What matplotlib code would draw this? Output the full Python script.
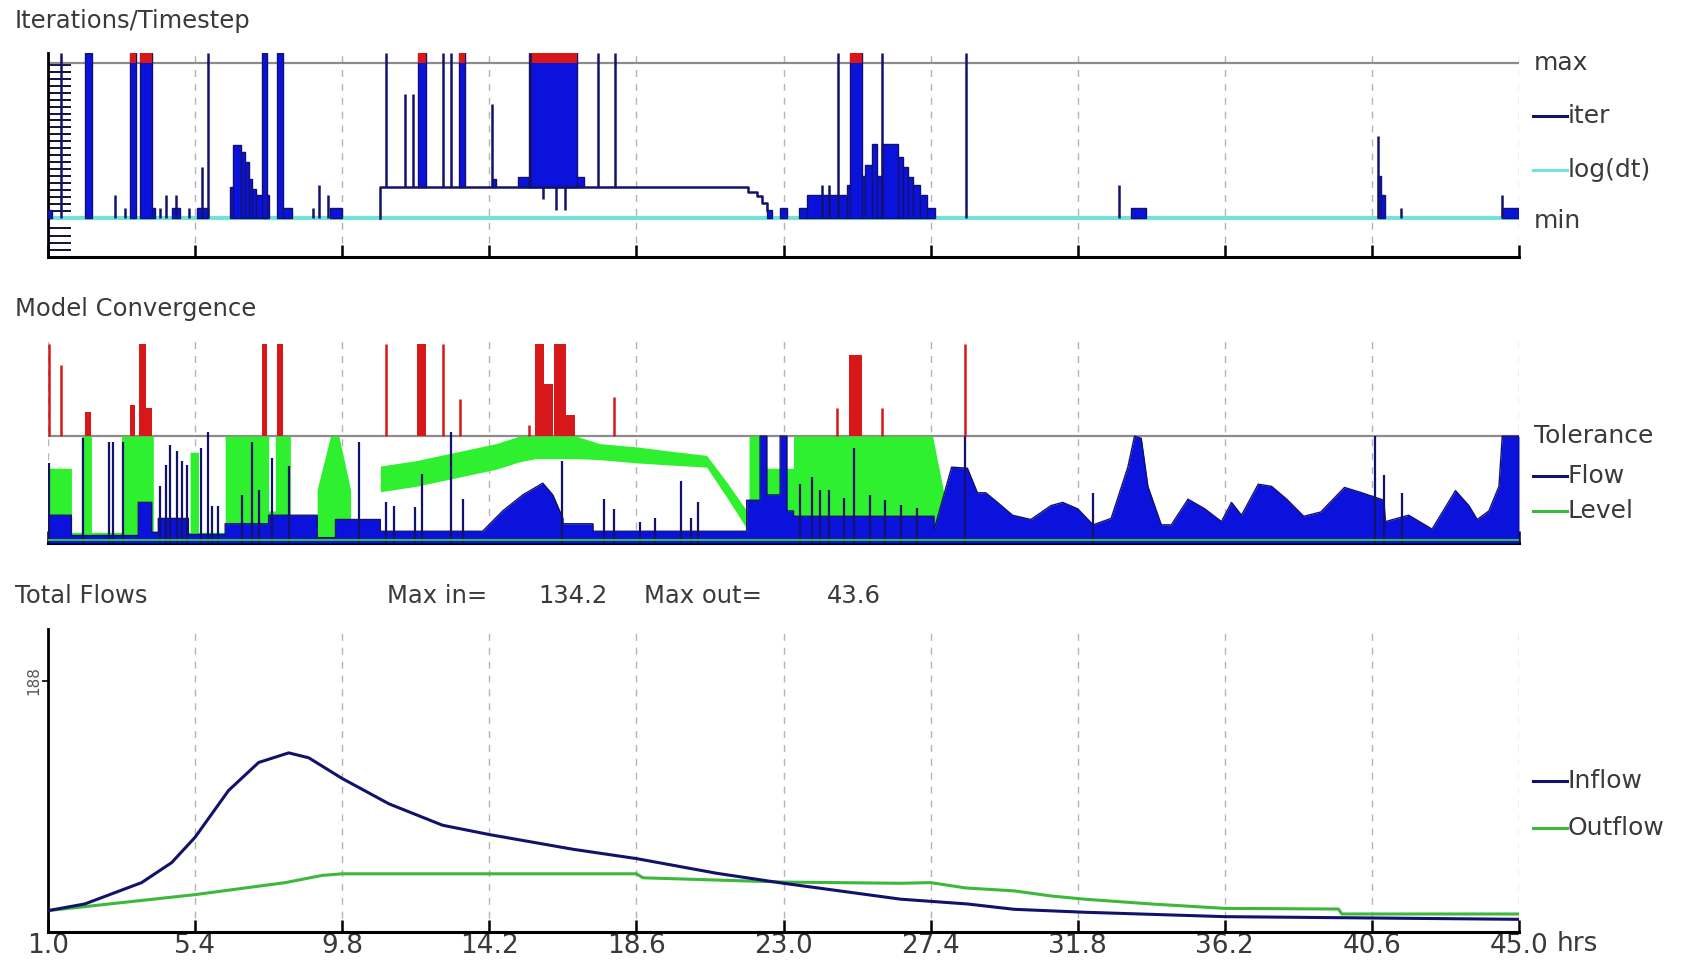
import matplotlib.pyplot as plt
from matplotlib.lines import Line2D

W, H = 1684, 969

NAVY = '#12126a'
BLUE = '#0a12dc'
RED = '#d81818'
GREEN = '#2ef02e'
DGREEN = '#3cb83c'
CYAN = '#72e2da'
GRAY = '#8c8c8c'
TXT = '#3a3a3a'

# time axis (hrs)
hour_ticks = [1.0, 5.4, 9.8, 14.2, 18.6, 23.0, 27.4, 31.8, 36.2, 40.6, 45.0]
hour_labels = ['1.0', '5.4', '9.8', '14.2', '18.6', '23.0', '27.4', '31.8', '36.2', '40.6', '45.0']

# ---- Iterations/Timestep (max = 20, min = 0) ----
iter_max = 20.0
iter_blocks = [  # (t0, t1, bottom, top)
    (1.0, 1.12, 0, 1.0), (2.11, 2.31, 0, 21.3), (3.46, 3.63, 0, 21.3),
    (3.74, 4.12, 0, 21.3), (4.12, 4.2, 0, 1.3), (4.71, 4.94, 0, 1.3),
    (5.46, 5.8, 0, 1.3), (6.43, 6.54, 0, 4.0), (6.54, 6.77, 0, 9.4),
    (6.77, 6.89, 0, 8.5), (6.89, 7.0, 0, 7.2), (7.0, 7.11, 0, 5.1),
    (7.11, 7.23, 0, 3.8), (7.23, 7.6, 0, 3.0), (7.4, 7.55, 0, 21.3),
    (7.86, 8.03, 0, 21.3), (8.03, 8.31, 0, 1.3), (9.43, 9.8, 0, 1.3),
    (12.06, 12.31, 4.0, 21.3), (13.29, 13.46, 4.0, 21.3), (14.28, 14.4, 4.0, 5.0),
    (15.06, 17.03, 4.0, 5.3), (15.4, 16.83, 4.0, 21.3), (22.5, 22.65, 0, 1.1),
    (22.9, 23.1, 0, 1.3), (23.45, 23.7, 0, 1.3), (23.7, 24.9, 0, 3.0),
    (24.9, 25.0, 0, 4.3), (25.0, 25.34, 0, 21.3), (25.34, 25.44, 0, 5.5),
    (25.44, 25.64, 0, 6.8), (25.64, 25.79, 0, 9.6), (25.79, 25.94, 0, 5.5),
    (25.94, 26.43, 0, 9.6), (26.43, 26.58, 0, 7.9), (26.58, 26.73, 0, 6.6),
    (26.73, 26.88, 0, 5.3), (26.88, 27.08, 0, 4.3), (27.08, 27.28, 0, 3.0),
    (27.28, 27.53, 0, 1.3), (33.4, 33.85, 0, 1.3), (40.77, 40.88, 0, 5.5),
    (40.88, 40.98, 0, 3.0), (44.5, 45.0, 0, 1.3),
]
iter_over_max = [(3.46, 3.63), (3.74, 4.12), (12.06, 12.31), (13.29, 13.46),
                 (15.4, 16.83), (25.0, 25.34)]
iter_spikes = [  # (t, bottom, top)
    (1.4, 0, 21.3), (3.0, 0, 3.0), (3.29, 0, 1.3), (4.35, 0, 1.3), (4.54, 0, 3.0),
    (4.83, 0, 3.0), (5.23, 0, 1.3), (5.61, 0, 6.6), (5.8, 0, 21.3), (8.92, 0, 1.3),
    (9.11, 0, 4.3), (9.38, 0, 3.0), (11.11, 4.0, 21.3), (11.69, 4.0, 16.0),
    (11.91, 4.0, 16.0), (12.83, 4.0, 21.3), (13.06, 4.0, 21.3), (14.28, 4.0, 14.7),
    (15.43, 4.0, 21.3), (17.45, 4.0, 21.3), (17.95, 4.0, 21.3), (15.8, 2.5, 4.0),
    (16.2, 1.1, 4.0), (16.45, 1.1, 4.0), (24.15, 0, 4.3), (24.35, 0, 4.3),
    (24.64, 0, 21.3), (25.94, 0, 21.3), (28.45, 0, 21.3), (33.03, 0, 4.3),
    (40.77, 0, 10.6), (41.46, 0, 1.3), (44.5, 0, 3.0),
]
iter_line_t = [10.94, 10.94, 21.95, 21.95, 22.2, 22.2, 22.35, 22.35, 22.5, 22.5]
iter_line_v = [0.0, 4.0, 4.0, 3.4, 3.4, 2.8, 2.8, 1.9, 1.9, 1.1]

# ---- Model Convergence (tolerance = 1) ----
red_spikes = [(1.03, 1.86), (1.4, 1.67), (11.11, 1.86), (12.83, 1.86), (13.32, 1.35),
              (15.4, 1.1), (17.94, 1.37), (24.6, 1.26), (25.95, 1.26), (28.43, 1.86)]
red_bars = [(2.11, 2.29, 1.23), (3.45, 3.6, 1.29), (3.72, 3.92, 1.86), (3.92, 4.1, 1.26),
            (7.4, 7.54, 1.86), (7.86, 8.03, 1.86), (12.05, 12.31, 1.86),
            (15.57, 15.85, 1.86), (15.85, 16.1, 1.49), (16.15, 16.5, 1.86),
            (16.5, 16.77, 1.2), (24.97, 25.35, 1.76)]
level_pts = [(1.0, 0.0), (1.0, 0.7), (1.7, 0.7), (1.7, 0.1), (2.0, 0.1), (2.0, 1.0),
             (2.3, 1.0), (2.3, 0.1), (3.2, 0.1), (3.2, 1.0), (4.15, 1.0), (4.15, 0.1),
             (5.25, 0.1), (5.25, 0.85), (5.5, 0.85), (5.5, 0.1), (6.3, 0.1), (6.3, 1.0),
             (7.6, 1.0), (7.6, 0.3), (7.8, 0.3), (7.8, 1.0), (8.25, 1.0), (8.25, 0.11),
             (9.05, 0.11), (9.05, 0.5), (9.45, 1.0), (9.7, 1.0), (10.05, 0.5),
             (10.05, 0.11), (10.94, 0.11), (10.94, 0.0),
             (21.97, 0.0), (21.97, 1.0), (22.43, 1.0), (22.43, 0.7), (23.3, 0.7),
             (23.3, 1.0), (27.46, 1.0), (28.03, 0.1), (28.03, 0.0)]
band_t = [10.94, 12.0, 13.2, 14.4, 15.1, 15.6, 16.8, 17.5, 18.6, 19.6, 20.7, 21.3, 21.97]
band_lo = [0.48, 0.53, 0.61, 0.69, 0.76, 0.79, 0.79, 0.78, 0.75, 0.73, 0.71, 0.43, 0.1]
band_hi = [0.72, 0.77, 0.85, 0.93, 1.0, 1.0, 1.0, 0.93, 0.9, 0.86, 0.82, 0.57, 0.27]
flow_pts = [(1.0, 0.0), (1.0, 0.26), (1.7, 0.26), (1.7, 0.07), (3.7, 0.07), (3.7, 0.38),
            (4.1, 0.38), (4.1, 0.1), (4.3, 0.1), (4.3, 0.23), (5.2, 0.23), (5.2, 0.08),
            (6.3, 0.08), (6.3, 0.18), (7.6, 0.18), (7.6, 0.26), (9.05, 0.26), (9.05, 0.05),
            (9.6, 0.05), (9.6, 0.22), (10.94, 0.22), (10.94, 0.11), (14.0, 0.11),
            (14.6, 0.3), (15.2, 0.45), (15.8, 0.56), (16.1, 0.45), (16.4, 0.23),
            (16.4, 0.18), (17.3, 0.18), (17.3, 0.11), (21.9, 0.11), (21.9, 0.4),
            (22.3, 0.4), (22.3, 1.0), (22.5, 1.0), (22.5, 0.45), (22.9, 0.45), (22.9, 1.0),
            (23.1, 1.0), (23.1, 0.3), (23.3, 0.3), (23.3, 0.25), (27.5, 0.25), (27.5, 0.12),
            (28.03, 0.71), (28.5, 0.7), (28.8, 0.47), (29.05, 0.47), (29.4, 0.38),
            (29.85, 0.26), (30.4, 0.22), (31.0, 0.35), (31.35, 0.38), (31.8, 0.32),
            (32.26, 0.17), (32.8, 0.23), (33.3, 0.71), (33.5, 1.0), (33.7, 0.98),
            (33.9, 0.53), (34.3, 0.17), (34.6, 0.17), (35.1, 0.41), (35.6, 0.32),
            (36.1, 0.2), (36.4, 0.38), (36.7, 0.26), (37.2, 0.55), (37.6, 0.53),
            (38.05, 0.41), (38.56, 0.25), (39.07, 0.29), (39.78, 0.52), (40.3, 0.47),
            (40.96, 0.4), (41.0, 0.2), (41.7, 0.26), (42.4, 0.13), (43.1, 0.49),
            (43.5, 0.35), (43.75, 0.22), (44.1, 0.3), (44.4, 0.53), (44.5, 1.0),
            (45.0, 1.0), (45.0, 0.0)]
flow_spikes = [(1.03, 0.75), (2.06, 0.98), (2.83, 0.95), (2.94, 0.95), (3.25, 0.95),
               (4.35, 0.53), (4.54, 0.73), (4.66, 0.92), (4.85, 0.86), (5.0, 0.77),
               (5.17, 0.73), (5.57, 0.89), (5.8, 1.04), (5.91, 0.35), (6.09, 0.35),
               (6.8, 0.45), (7.11, 0.95), (7.3, 0.5), (7.71, 0.8), (8.2, 0.72),
               (10.31, 0.95), (11.11, 0.38), (11.34, 0.35), (11.97, 0.34), (12.2, 0.65),
               (13.06, 1.04), (13.4, 0.41), (16.37, 0.77), (17.63, 0.41), (17.94, 0.32),
               (18.71, 0.2), (19.17, 0.23), (19.94, 0.58), (20.22, 0.23), (20.43, 0.38),
               (23.5, 0.55), (23.85, 0.62), (24.09, 0.5), (24.37, 0.5), (24.8, 0.42),
               (25.11, 0.89), (25.6, 0.45), (26.05, 0.4), (26.5, 0.36), (27.0, 0.33),
               (28.43, 1.0), (32.26, 0.47), (40.7, 1.0), (40.96, 0.64), (41.5, 0.47)]

# ---- Total Flows ----
inflow_t = [1.0, 2.1, 3.8, 4.7, 5.4, 6.4, 7.3, 8.2, 8.8, 9.8, 11.2, 12.8, 14.2, 16.7,
            18.6, 21.0, 23.0, 26.5, 28.5, 29.9, 32.0, 36.2, 40.6, 45.0]
inflow_v = [16, 21, 37, 52, 71, 106, 127, 134.2, 130.5, 115, 96, 80, 73, 62,
            55, 44, 36.5, 24.6, 21, 17, 14.8, 11.5, 10.5, 9.5]
outflow_t = [1.0, 5.4, 8.1, 9.2, 9.8, 18.6, 18.8, 23.0, 26.5, 27.4, 28.45, 29.9, 31.0,
             32.0, 34.0, 36.2, 39.6, 39.7, 45.0]
outflow_v = [16, 28, 37, 42.4, 43.6, 43.6, 40.6, 37.4, 36.5, 37, 33, 30.8, 27,
             24.6, 21, 17.7, 17.2, 13.5, 13.5]
max_in, max_out = 134.2, 43.6

fig = plt.figure(figsize=(W / 100, H / 100), dpi=100)
fig.patch.set_facecolor('white')


def box(l, t, r, b):
    return [l / W, 1 - b / H, (r - l) / W, (b - t) / H]


def label(x, y, s, size=17.5, color=TXT, **kw):
    fig.text(x / W, 1 - y / H, s, fontsize=size, color=color, va='center', ha='left', **kw)


def key(x, y, s, color):
    fig.add_artist(Line2D([x / W, (x + 34) / W], [1 - y / H] * 2, color=color, lw=2.2))
    label(x + 35, y, s, size=18)


def frame(ax):
    ax.set_xlim(1, 45)
    ax.set_xticks(hour_ticks)
    ax.grid(True, axis='x', linestyle=(0, (5, 5)), color='#b4b4b4', lw=1)
    ax.set_axisbelow(True)
    for s in ['top', 'right', 'left']:
        ax.spines[s].set_visible(False)
    ax.spines['bottom'].set_linewidth(2.2)
    ax.tick_params(axis='x', direction='in', length=9, width=1.8, labelbottom=False)


# ---------------- top panel ----------------
ax1 = fig.add_axes(box(48, 53, 1519, 257))
frame(ax1)
ax1.set_ylim(-5, 21.3)
ax1.spines['left'].set_visible(True)
ax1.spines['left'].set_linewidth(2)
ladder = [-4.1, -3.2, -2.3, -1.3] + [0.9 * k for k in range(1, 23)]
ax1.set_yticks(ladder)
ax1.tick_params(axis='y', direction='in', length=16.5, width=1.4, color='#10103a', labelleft=False)
ax1.axhline(iter_max, color=GRAY, lw=1.6, zorder=1)
ax1.axhline(0, color=CYAN, lw=3, zorder=2)
for t0, t1, b, top in iter_blocks:
    ax1.bar(t0, top - b, width=t1 - t0, bottom=b, align='edge', color=BLUE,
            edgecolor=NAVY, linewidth=1.0, zorder=3)
for t0, t1 in iter_over_max:
    ax1.bar(t0, 21.3 - iter_max, width=t1 - t0, bottom=iter_max, align='edge',
            color=RED, linewidth=0, zorder=4)
ax1.vlines([s[0] for s in iter_spikes], [s[1] for s in iter_spikes],
           [s[2] for s in iter_spikes], color=NAVY, lw=1.8, zorder=4)
ax1.plot(iter_line_t, iter_line_v, color=NAVY, lw=1.8, zorder=4)

# ---------------- middle panel ----------------
ax2 = fig.add_axes(box(48, 340, 1519, 543))
frame(ax2)
ax2.set_ylim(0, 1.9)
ax2.set_yticks([])
ax2.axhline(1.0, color=GRAY, lw=1.6, zorder=1)
lt, lv = zip(*level_pts)
ax2.fill_between(lt, 0, lv, color=GREEN, lw=0, zorder=2)
ax2.fill_between(band_t, band_lo, band_hi, color=GREEN, lw=0, zorder=2)
ft, fv = zip(*flow_pts)
ax2.fill_between(ft, 0, fv, color=BLUE, lw=0, zorder=3)
ax2.plot(ft, fv, color=NAVY, lw=1.0, zorder=3)
ax2.vlines([s[0] for s in flow_spikes], 0, [s[1] for s in flow_spikes],
           color=NAVY, lw=1.6, zorder=4)
for t0, t1, top in red_bars:
    ax2.bar(t0, top - 1.0, width=t1 - t0, bottom=1.0, align='edge', color=RED,
            linewidth=0, zorder=4)
ax2.vlines([s[0] for s in red_spikes], 1.0, [s[1] for s in red_spikes],
           color=RED, lw=1.8, zorder=4)
ax2.axhline(0.03, color=DGREEN, lw=1.5, zorder=5)

# ---------------- bottom panel ----------------
ax3 = fig.add_axes(box(48, 629, 1519, 932))
frame(ax3)
ax3.set_ylim(0, 227)
ax3.spines['left'].set_visible(True)
ax3.spines['left'].set_linewidth(2)
ax3.set_xticklabels(hour_labels)
ax3.tick_params(axis='x', labelbottom=True, labelsize=19, labelcolor=TXT, pad=1)
ax3.set_yticks([188])
ax3.set_yticklabels(['188'], rotation=90, va='center', fontsize=11, color='#555555')
ax3.tick_params(axis='y', direction='out', length=4, width=1.2, pad=1)
ax3.plot(outflow_t, outflow_v, color=DGREEN, lw=2.2, zorder=3)
ax3.plot(inflow_t, inflow_v, color=NAVY, lw=2.2, zorder=4)
label(1557, 944, 'hrs', size=19)

# ---------------- titles and keys ----------------
label(15, 21, 'Iterations/Timestep')
label(15, 309, 'Model Convergence')
label(15, 596, 'Total Flows')
label(387, 596, 'Max in=')
label(538, 596, f'{max_in:.1f}')
label(644, 596, 'Max out=')
label(827, 596, f'{max_out:.1f}')

label(1534, 63, 'max', size=18)
key(1533, 116, 'iter', NAVY)
key(1533, 170, 'log(dt)', CYAN)
label(1534, 221, 'min', size=18)

label(1534, 436, 'Tolerance', size=18)
key(1533, 476, 'Flow', NAVY)
key(1533, 511, 'Level', DGREEN)

key(1533, 781, 'Inflow', NAVY)
key(1533, 828, 'Outflow', DGREEN)

fig.savefig('out.png', dpi=100)
